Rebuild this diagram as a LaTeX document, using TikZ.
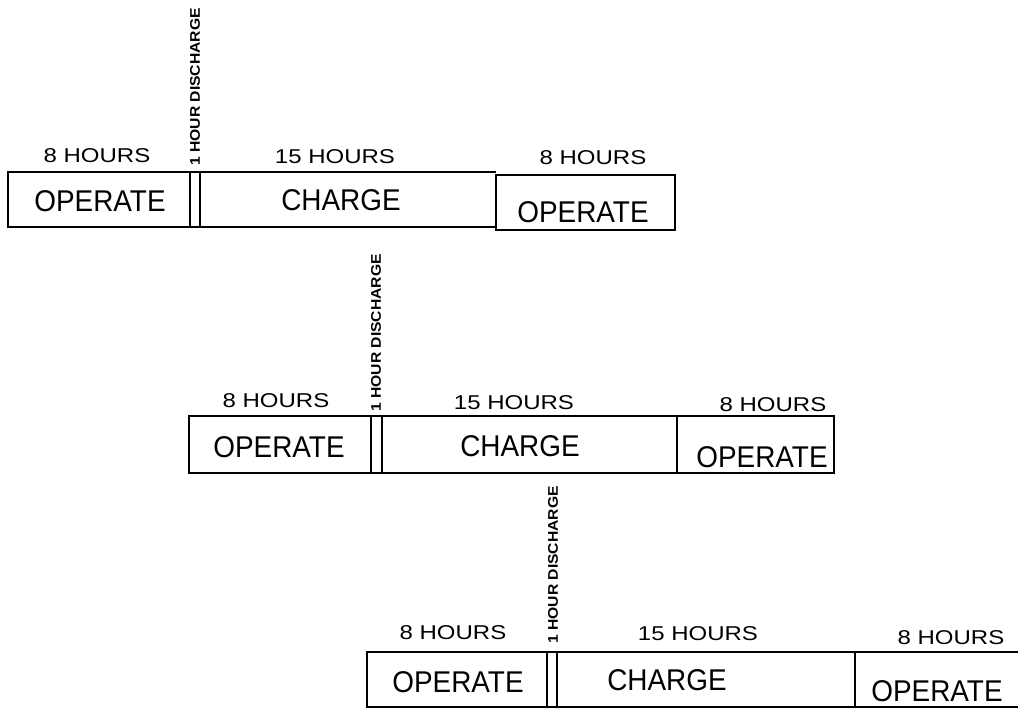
\documentclass[tikz,border=0pt]{standalone}
\usepackage{fontspec}
\setmainfont{Liberation Sans}

\begin{document}
\begin{tikzpicture}[x=1pt, y=-1pt]
  \tikzset{
    bar/.style={line width=1.1pt},
    hrs/.style={font=\fontsize{20}{20}\selectfont, xscale=1.2, inner sep=0pt},
    task/.style={font=\fontsize{30}{30}\selectfont, xscale=0.93, inner sep=0pt},
    dis/.style={font=\bfseries\fontsize{14}{14}\selectfont, rotate=90, xscale=1.12, inner sep=0pt}
  }
  \useasboundingbox (0,0) rectangle (1018,709);

  % first day
  \draw[bar] (496,227) -- (8,227) -- (8,172) -- (496,172);
  \draw[bar] (496,175) rectangle (675,230);
  \draw[bar] (190,172) -- (190,227) (200,172) -- (200,227);
  \node[hrs] (hrsA1) at (97,156) {8 HOURS};
  \node[hrs] (hrsA2) at (335,157) {15 HOURS};
  \node[hrs] (hrsA3) at (593,158) {8 HOURS};
  \node[task] (opA1) at (100,201) {OPERATE};
  \node[task] (chA) at (341,200) {CHARGE};
  \node[task] (opA2) at (583,212) {OPERATE};
  \node[dis] (disA) at (195,87) {1 HOUR DISCHARGE};

  % second day
  \draw[bar] (189,416) rectangle (834,473);
  \draw[bar] (371,416) -- (371,473) (382,416) -- (382,473) (677,416) -- (677,473);
  \node[hrs] (hrsB1) at (276,401) {8 HOURS};
  \node[hrs] (hrsB2) at (514,403) {15 HOURS};
  \node[hrs] (hrsB3) at (773,405) {8 HOURS};
  \node[task] (opB1) at (279,447) {OPERATE};
  \node[task] (chB) at (520,446) {CHARGE};
  \node[task] (opB2) at (762,457) {OPERATE};
  \node[dis] (disB) at (376,333) {1 HOUR DISCHARGE};

  % third day
  \draw[bar] (1018,652) -- (367,652) -- (367,707) -- (1018,707);
  \draw[bar] (547,652) -- (547,707) (557,652) -- (557,707) (855,652) -- (855,707);
  \node[hrs] (hrsC1) at (453,633) {8 HOURS};
  \node[hrs] (hrsC2) at (698,634) {15 HOURS};
  \node[hrs] (hrsC3) at (951,638) {8 HOURS};
  \node[task] (opC1) at (458,682) {OPERATE};
  \node[task] (chC) at (667,680) {CHARGE};
  \node[task] (opC2) at (937,691) {OPERATE};
  \node[dis] (disC) at (553,565) {1 HOUR DISCHARGE};
\end{tikzpicture}
\end{document}
